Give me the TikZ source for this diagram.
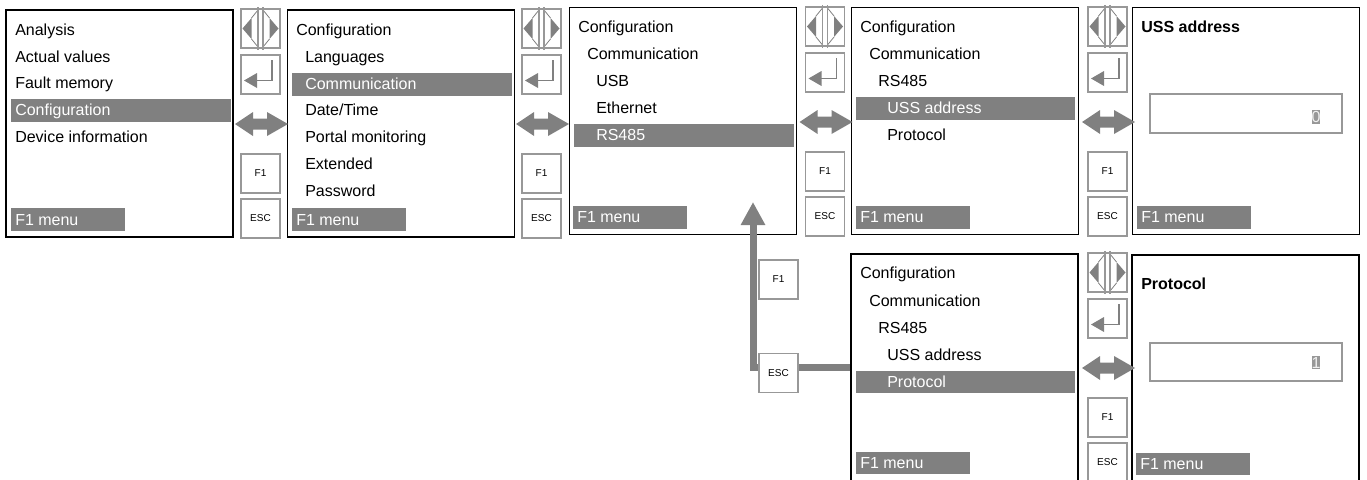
\documentclass[tikz,border=0pt]{standalone}
\usepackage{fontspec}
\setmainfont{Liberation Sans}
\usepackage{tikz}
\usetikzlibrary{arrows.meta}

\definecolor{hmigray}{RGB}{128,128,128}
\definecolor{keygray}{RGB}{152,152,152}

% column of operating keys: name, x centre, y top (pixel units)
\newcommand{\keycol}[3]{%
  \draw[keygray,line width=1.1pt] ({#2-19.5},#3) rectangle ({#2+19.5},{#3+39});
  \fill[hmigray] ({#2-18},{#3+19.5}) -- ({#2-9},{#3+9}) -- ({#2-9},{#3+30}) -- cycle;
  \fill[hmigray] ({#2+18},{#3+19.5}) -- ({#2+9},{#3+9}) -- ({#2+9},{#3+30}) -- cycle;
  \draw[hmigray,line width=0.6pt] ({#2-9},{#3+9}) -- ({#2-2.5},{#3+1}) ({#2-9},{#3+30}) -- ({#2-2.5},{#3+38})
    ({#2+9},{#3+9}) -- ({#2+2.5},{#3+1}) ({#2+9},{#3+30}) -- ({#2+2.5},{#3+38});
  \draw[keygray,line width=0.9pt] ({#2-2.5},{#3-2}) -- ({#2-2.5},{#3+41}) ({#2+2.5},{#3-2}) -- ({#2+2.5},{#3+41});
  % enter
  \draw[keygray,line width=1.1pt] ({#2-19.5},{#3+46}) rectangle ({#2+19.5},{#3+85});
  \draw[hmigray,line width=1.1pt] ({#2+11.5},{#3+51}) -- ({#2+11.5},{#3+71.5}) -- ({#2-4},{#3+71.5});
  \fill[hmigray] ({#2-16.5},{#3+71.5}) -- ({#2-3.5},{#3+64}) -- ({#2-3.5},{#3+79}) -- cycle;
  % left/right
  \fill[hmigray,shift={(#2,{#3+115})}] (-25.5,0) -- (-7.5,-12) -- (-7.5,-5.5) -- (6.5,-5.5) -- (6.5,-12)
    -- (27.5,0) -- (6.5,12) -- (6.5,5.5) -- (-7.5,5.5) -- (-7.5,12) -- cycle;
  \node[key] (#1f1) at (#2,{#3+164.5}) {F1};
  \node[key] (#1esc) at (#2,{#3+209.5}) {ESC};
}

\begin{document}
\begin{tikzpicture}[x=0.75pt,y=-0.75pt,
  screen/.style={draw,line width=1.2pt,minimum width=170.25pt,minimum height=170.25pt,inner sep=0pt},
  item/.style={anchor=base west,inner sep=0pt,font=\fontsize{12}{14}\selectfont},
  sel/.style={item,text=white},
  title/.style={item,font=\fontsize{12}{14}\selectfont\bfseries},
  key/.style={draw=keygray,fill=white,line width=1.1pt,minimum size=29.25pt,inner sep=0pt,font=\fontsize{7.5}{9}\selectfont},
  field/.style={draw=keygray,line width=1.5pt},
  value/.style={fill=keygray,text=white!88!gray,inner xsep=0pt,inner ysep=1pt,font=\fontsize{12}{14}\selectfont},
  link/.style={draw=hmigray,line width=5.25pt,-{Triangle[length=17.25pt,width=17.25pt]}}]
  \clip (0,0) rectangle (1367,479);

  % screens
  \node[screen] (main) at (119.5,123.5) {};
  \node[screen] (config) at (401,123.5) {};
  \node[screen] (comm) at (683,121) {};
  \node[screen] (rs) at (965,121) {};
  \node[screen] (uss) at (1246,121) {};
  \node[screen] (rsb) at (964.5,367.5) {};
  \node[screen] (proto) at (1245.5,368.5) {};

  % main menu
  \node[item] (a1) at (15,35.5) {Analysis};
  \node[item] (a2) at (15,62.2) {Actual values};
  \node[item] (a3) at (15,88.9) {Fault memory};
  \fill[hmigray] (11,98.6) rectangle (231,121.6);
  \node[sel] (a4) at (15,115.6) {Configuration};
  \node[item] (a5) at (15,142.3) {Device information};
  \fill[hmigray] (11,208) rectangle (125,231);
  \node[sel] (a6) at (15,225.5) {F1 menu};

  % configuration
  \node[item] (b1) at (296,35.5) {Configuration};
  \node[item] (b2) at (305,62.3) {Languages};
  \fill[hmigray] (292,72.5) rectangle (512,95.5);
  \node[sel] (b3) at (305,89.1) {Communication};
  \node[item] (b4) at (305,115.9) {Date/Time};
  \node[item] (b5) at (305,142.7) {Portal monitoring};
  \node[item] (b6) at (305,169.5) {Extended};
  \node[item] (b7) at (305,196.3) {Password};
  \fill[hmigray] (292,208) rectangle (406,231);
  \node[sel] (b8) at (296,225.5) {F1 menu};

  % communication
  \node[item] (c1) at (578,32.5) {Configuration};
  \node[item] (c2) at (587,59.5) {Communication};
  \node[item] (c3) at (596,86.5) {USB};
  \node[item] (c4) at (596,113.5) {Ethernet};
  \fill[hmigray] (574,124) rectangle (794,147);
  \node[sel] (c5) at (596,140.5) {RS485};
  \fill[hmigray] (573,206) rectangle (687,229);
  \node[sel] (c6) at (577,222.5) {F1 menu};

  % RS485
  \node[item] (d1) at (860,32.5) {Configuration};
  \node[item] (d2) at (869,59.5) {Communication};
  \node[item] (d3) at (878,86.5) {RS485};
  \fill[hmigray] (856,97) rectangle (1075,120);
  \node[sel] (d4) at (887,113.5) {USS address};
  \node[item] (d5) at (887,140.5) {Protocol};
  \fill[hmigray] (856,206) rectangle (970,229);
  \node[sel] (d6) at (860,222.5) {F1 menu};

  % USS address
  \node[title] (e1) at (1141,32) {USS address};
  \draw[field] (1150,94) rectangle (1342,133);
  \node[value] (e2) at (1316,116.5) {0};
  \fill[hmigray] (1137,206) rectangle (1251,229);
  \node[sel] (e3) at (1141,222.5) {F1 menu};

  % RS485, protocol selected
  \node[item] (f1) at (860,278.5) {Configuration};
  \node[item] (f2) at (869,306.5) {Communication};
  \node[item] (f3) at (878,333.5) {RS485};
  \node[item] (f4) at (887,360.5) {USS address};
  \fill[hmigray] (856,371) rectangle (1075,393);
  \node[sel] (f5) at (887,387.5) {Protocol};
  \fill[hmigray] (856,452) rectangle (970,474);
  \node[sel] (f6) at (860,468.5) {F1 menu};

  % protocol
  \node[title] (g1) at (1141,289) {Protocol};
  \draw[field] (1150,343) rectangle (1342,381);
  \node[value] (g2) at (1316,362.5) {1};
  \fill[hmigray] (1136,453) rectangle (1250,475);
  \node[sel] (g3) at (1140,469.5) {F1 menu};

  % keys
  \keycol{ka}{260.5}{9}
  \keycol{kb}{541.5}{9}
  \keycol{kc}{825}{7}
  \keycol{kd}{1107.5}{7}
  \keycol{ke}{1107.5}{253}

  % way back with ESC
  \coordinate (tip) at (753,202);
  \draw[link] (rsb.west) -| (tip);
  \node[key] (backf1) at (778.5,279.5) {F1};
  \node[key] (backesc) at (778.5,373) {ESC};
\end{tikzpicture}
\end{document}
